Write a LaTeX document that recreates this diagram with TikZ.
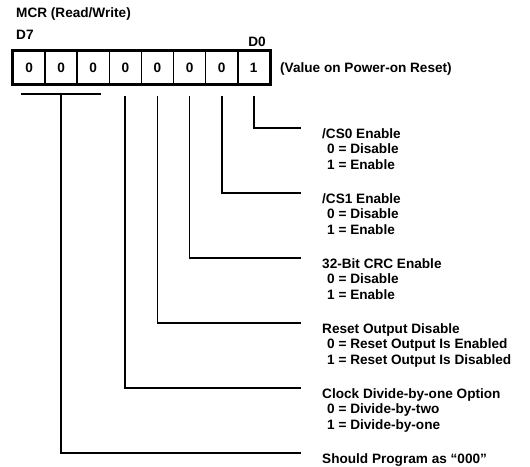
\documentclass[tikz,border=0pt]{standalone}
\usepackage{fontspec}
\setmainfont{Liberation Sans}

\tikzset{
  txt/.style={inner sep=0pt, font=\bfseries\fontsize{13.6}{15.5}\selectfont},
  bitcell/.style={txt, draw, line width=1.6pt, minimum width=32.1pt, minimum height=33pt},
  fieldlabel/.style={txt, anchor=north west, align=left},
  lead/.style={line width=1.8pt}
}

\begin{document}
\begin{tikzpicture}[x=1pt,y=-1pt]
\useasboundingbox (0,0) rectangle (530,466);

% Register name and bit numbers
\node[txt, anchor=west] (regname) at (16,14) {MCR (Read/Write)};
\node[txt, anchor=west] (dseven) at (16,35) {D7};
\node[txt] (dzero) at (257,42) {D0};

% Bit cells, D7 on the left
\foreach \v [count=\i from 0, evaluate=\i as \b using int(7-\i)] in {0,0,0,0,0,0,0,1}
  \node[bitcell] (bit\b) at ({29.05+32.1*\i},67.5) {\v};
\draw[line width=2.4pt] (bit7.north west) rectangle (bit0.south east);

\node[txt, anchor=west] (poweron) at (280,69) {(Value on Power-on Reset)};

% Line ends
\coordinate (e0) at (301,128);
\coordinate (e1) at (301,193);
\coordinate (e2) at (301,258);
\coordinate (e3) at (301,323);
\coordinate (e4) at (301,388);
\coordinate (e5) at (301,453);

% Field descriptions
\node[fieldlabel] (cszero) at ([xshift=21pt,yshift=0pt]e0)
  {/CS0 Enable\\\hspace*{5pt}0 = Disable\\\hspace*{5pt}1 = Enable};
\node[fieldlabel] (csone) at ([xshift=21pt,yshift=0pt]e1)
  {/CS1 Enable\\\hspace*{5pt}0 = Disable\\\hspace*{5pt}1 = Enable};
\node[fieldlabel] (crc) at ([xshift=21pt,yshift=0pt]e2)
  {32-Bit CRC Enable\\\hspace*{5pt}0 = Disable\\\hspace*{5pt}1 = Enable};
\node[fieldlabel] (resetout) at ([xshift=21pt,yshift=0pt]e3)
  {Reset Output Disable\\\hspace*{5pt}0 = Reset Output Is Enabled\\\hspace*{5pt}1 = Reset Output Is Disabled};
\node[fieldlabel] (clkdiv) at ([xshift=21pt,yshift=0pt]e4)
  {Clock Divide-by-one Option\\\hspace*{5pt}0 = Divide-by-two\\\hspace*{5pt}1 = Divide-by-one};
\node[fieldlabel] (reserved) at ([xshift=21pt,yshift=0pt]e5)
  {Should Program as ``000''};

% Leads from the bits
\draw[lead] ([yshift=-11pt]bit0.south) |- (e0);
\draw[lead] ([yshift=-11pt]bit1.south) |- (e1);
\draw[lead] ([yshift=-11pt]bit2.south) |- (e2);
\draw[lead] ([yshift=-11pt]bit3.south) |- (e3);
\draw[lead] ([yshift=-11pt]bit4.south) |- (e4);

% Bar under D7-D5
\draw[lead] ([xshift=9pt,yshift=-9pt]bit7.south west) -- ([xshift=-9pt,yshift=-9pt]bit5.south east);
\draw[lead] ([yshift=-9pt]bit6.south) |- (e5);

\end{tikzpicture}
\end{document}
